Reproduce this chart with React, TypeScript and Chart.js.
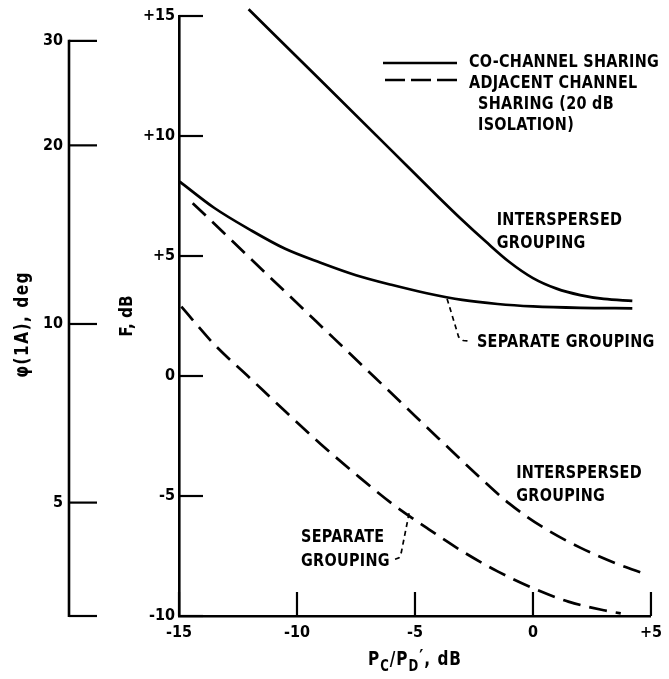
import React, { useEffect, useRef } from "react";
import { Chart, registerables } from "chart.js";
Chart.register(...registerables);

const FONT = '"DejaVu Sans Condensed", "DejaVu Sans", sans-serif';

// ---- axis ticks ----
const xTickValues = [-15, -10, -5, 0, 5];
const fTickValues = [-10, -5, 0, 5, 10, 15];
const phiTickValues = [5, 10, 20, 30];

// ---- titles / labels ----
const fTitle = "F, dB";
const phiTitle = "\u03C6(1A), deg";
const xTitleParts = ["P", "C", "/P", "D", "\u2032", ", dB"];
const legendSolid = ["CO-CHANNEL SHARING"];
const legendDashed = ["ADJACENT CHANNEL", "SHARING (20 dB", "ISOLATION)"];
const noteInterspersed = ["INTERSPERSED", "GROUPING"];
const noteSeparateOneLine = ["SEPARATE GROUPING"];
const noteSeparate = ["SEPARATE", "GROUPING"];

// ---- series (x = Pc/Pd dB, F dB) ----
const coInterX = [-12.05, -9, -6, -4, -3, -2, -1, 0, 1, 2, 3, 4.21];
const coInterF = [15.28, 12.32, 9.4, 7.45, 6.5, 5.6, 4.75, 4.08, 3.64, 3.37, 3.21, 3.13];

const coSepX = [-14.97, -13.5, -12, -10.5, -9, -7.5, -6, -4.5, -3, -1.5, 0, 2, 4.21];
const coSepF = [8.1, 7.0, 6.1, 5.3, 4.72, 4.2, 3.8, 3.45, 3.17, 3.0, 2.9, 2.84, 2.82];

const adjInterX = [-14.42, -13, -11.5, -10, -8.5, -7, -5.5, -4, -2.5, -1, 0.5, 2, 3.5, 4.76];
const adjInterF = [7.2, 5.87, 4.45, 3.04, 1.63, 0.22, -1.19, -2.6, -4.0, -5.32, -6.35, -7.15, -7.8, -8.25];

const adjSepX = [-14.9, -13.5, -12, -10.5, -9, -7.5, -6, -4.5, -3, -1.5, 0, 1.5, 3, 3.72];
const adjSepF = [2.89, 1.31, -0.08, -1.47, -2.83, -4.1, -5.3, -6.33, -7.3, -8.14, -8.84, -9.4, -9.76, -9.89];

const toPts = (xs: number[], ys: number[]) => xs.map((x, i) => ({ x, y: ys[i] }));
const fmtSigned = (v: number) => (v > 0 ? "+" + v : String(v));

const STRETCH = 1.15;

const inkPlugin = {
  id: "ink",
  afterDraw(chart: any) {
    const ctx: CanvasRenderingContext2D = chart.ctx;
    const xs = chart.scales.x;
    const ys = chart.scales.y;
    const ps = chart.scales.phi;
    const ca = chart.chartArea;
    const X = (v: number) => xs.getPixelForValue(v);
    const Y = (v: number) => ys.getPixelForValue(v);
    ctx.save();
    ctx.strokeStyle = "#000";
    ctx.fillStyle = "#000";
    ctx.lineCap = "butt";

    // inward ticks, F axis
    ctx.lineWidth = 2.2;
    fTickValues.forEach((v) => {
      const y = Y(v);
      ctx.beginPath();
      ctx.moveTo(ca.left, y);
      ctx.lineTo(ca.left + 24, y);
      ctx.stroke();
    });
    // inward ticks, x axis
    xTickValues.forEach((v) => {
      const x = X(v);
      ctx.beginPath();
      ctx.moveTo(x, ca.bottom);
      ctx.lineTo(x, ca.bottom - 24);
      ctx.stroke();
    });

    // phi axis line & ticks
    const px = ps.right;
    const pTop = ps.getPixelForValue(phiTickValues[phiTickValues.length - 1]);
    ctx.lineWidth = 2.6;
    ctx.beginPath();
    ctx.moveTo(px, pTop - 1);
    ctx.lineTo(px, ca.bottom + 1);
    ctx.stroke();
    ctx.lineWidth = 2.2;
    [...phiTickValues.map((v) => ps.getPixelForValue(v)), ca.bottom].forEach((y) => {
      ctx.beginPath();
      ctx.moveTo(px, y);
      ctx.lineTo(px + 28, y);
      ctx.stroke();
    });

    const txtFont = `bold 16px ${FONT}`;
    (ctx as any).letterSpacing = "0.3px";
    const text = (t: string, x: number, y: number, font = txtFont) => {
      ctx.save();
      ctx.font = font;
      ctx.translate(x, y);
      ctx.scale(1, STRETCH);
      ctx.fillText(t, 0, 0);
      ctx.restore();
    };
    ctx.textAlign = "left";
    ctx.textBaseline = "middle";

    // phi title
    ctx.save();
    (ctx as any).letterSpacing = "1.5px";
    ctx.translate(ps.left + 23, (pTop + ca.bottom) / 2 - 4);
    ctx.rotate(-Math.PI / 2);
    ctx.textAlign = "center";
    text(phiTitle, 0, 0, `bold 17px ${FONT}`);
    ctx.restore();
    (ctx as any).letterSpacing = "0.3px";

    // x title with subscripts
    const big = `bold 17px ${FONT}`;
    const small = `bold 13px ${FONT}`;
    const isSub = [false, true, false, true, false, false];
    (ctx as any).letterSpacing = "1px";
    let total = 0;
    xTitleParts.forEach((t, i) => {
      ctx.font = isSub[i] ? small : big;
      total += ctx.measureText(t).width;
    });
    let cx = (xs.left + xs.right) / 2 - total / 2;
    const ty = ca.bottom + 44;
    xTitleParts.forEach((t, i) => {
      const f = isSub[i] ? small : big;
      text(t, cx, ty + (isSub[i] ? 7 : 0) + (i === 4 ? -2 : 0), f);
      ctx.font = f;
      cx += ctx.measureText(t).width;
    });
    (ctx as any).letterSpacing = "0.3px";

    // legend
    const lx = ca.left + 204;
    const ly = ca.top + 47;
    ctx.lineWidth = 2.6;
    ctx.beginPath();
    ctx.moveTo(lx, ly);
    ctx.lineTo(lx + 74, ly);
    ctx.stroke();
    ctx.setLineDash([20, 6]);
    ctx.beginPath();
    ctx.moveTo(lx + 2, ly + 17);
    ctx.lineTo(lx + 76, ly + 17);
    ctx.stroke();
    ctx.setLineDash([]);
    text(legendSolid[0], lx + 86, ly - 1);
    text(legendDashed[0], lx + 86, ly + 20);
    text(legendDashed[1], lx + 95, ly + 41);
    text(legendDashed[2], lx + 95, ly + 62);

    // annotations
    const lineText = (lines: string[], x: number, f: number, gapPx: number) => {
      lines.forEach((t, i) => text(t, X(x), Y(f) + i * gapPx));
    };
    lineText(noteInterspersed, -1.54, 6.47, 22.5);
    lineText(noteSeparateOneLine, -2.375, 1.42, 0);
    lineText(noteInterspersed, -0.71, -4.04, 23);
    lineText(noteSeparate, -9.83, -6.73, 24);

    // leaders
    const leader = (pts: number[][]) => {
      ctx.lineWidth = 1.7;
      ctx.setLineDash([5, 4]);
      ctx.beginPath();
      pts.forEach(([x, f], i) => (i ? ctx.lineTo(X(x), Y(f)) : ctx.moveTo(X(x), Y(f))));
      ctx.stroke();
      ctx.setLineDash([]);
    };
    leader([[-3.64, 3.22], [-3.15, 1.63], [-2.96, 1.48], [-2.75, 1.46]]);
    leader([[-5.25, -5.72], [-5.58, -7.35], [-5.68, -7.58], [-5.95, -7.67]]);

    (ctx as any).letterSpacing = "0px";
    ctx.restore();
  },
};

export default function App() {
  const ref = useRef<HTMLCanvasElement | null>(null);
  useEffect(() => {
    if (!ref.current) return;
    const lineBase = {
      borderColor: "#000",
      borderWidth: 2.7,
      pointRadius: 0,
      fill: false,
      cubicInterpolationMode: "monotone" as const,
      clip: false as any,
      xAxisID: "x",
      yAxisID: "y",
    };
    const tickFont = { family: FONT, size: 16, weight: "bold" as const };
    const noGrid = { display: false, drawTicks: false };
    const chart = new Chart(ref.current, {
      type: "line",
      data: {
        datasets: [
          { ...lineBase, label: "Co-channel interspersed", data: toPts(coInterX, coInterF) },
          { ...lineBase, label: "Co-channel separate", data: toPts(coSepX, coSepF) },
          { ...lineBase, label: "Adjacent interspersed", data: toPts(adjInterX, adjInterF), borderDash: [18, 9] },
          { ...lineBase, label: "Adjacent separate", data: toPts(adjSepX, adjSepF), borderDash: [18, 9] },
        ],
      },
      options: {
        animation: false,
        responsive: false,
        maintainAspectRatio: false,
        devicePixelRatio: 1,
        layout: { padding: { top: 16, right: 12, left: 0, bottom: 0 } },
        plugins: { legend: { display: false }, tooltip: { enabled: false }, title: { display: false } },
        scales: {
          x: {
            type: "linear",
            position: "bottom",
            min: -15,
            max: 5,
            afterBuildTicks: (s: any) => {
              s.ticks = xTickValues.map((v) => ({ value: v }));
            },
            ticks: { callback: (v: any) => fmtSigned(Number(v)), font: tickFont, color: "#000", padding: 7, maxRotation: 0, autoSkip: false },
            grid: noGrid,
            border: { display: true, color: "#000", width: 2.6 },
            afterFit: (s: any) => {
              s.height = 63;
            },
          },
          y: {
            type: "linear",
            position: "left",
            weight: 0,
            min: -10,
            max: 15,
            afterBuildTicks: (s: any) => {
              s.ticks = fTickValues.map((v) => ({ value: v }));
            },
            ticks: { callback: (v: any) => fmtSigned(Number(v)), font: tickFont, color: "#000", padding: 4, autoSkip: false },
            grid: noGrid,
            border: { display: true, color: "#000", width: 2.6 },
            title: { display: true, text: fTitle, color: "#000", font: { family: FONT, size: 17, weight: "bold" }, padding: { top: 48, bottom: 0 } },
            afterFit: (s: any) => {
              s.width = 110;
            },
          },
          phi: {
            type: "logarithmic",
            position: "left",
            weight: 1,
            min: 3.22,
            max: 33.04,
            afterBuildTicks: (s: any) => {
              s.ticks = phiTickValues.map((v) => ({ value: v }));
            },
            ticks: { callback: (v: any) => String(v), font: tickFont, color: "#000", padding: 6, autoSkip: false },
            grid: noGrid,
            border: { display: false },
            afterFit: (s: any) => {
              s.width = 69;
            },
          },
        },
      } as any,
      plugins: [inkPlugin],
    });
    return () => chart.destroy();
  }, []);
  return (
    <div style={{ position: "absolute", left: 0, top: 0, width: 669, height: 679, background: "#fff" }}>
      <canvas ref={ref} width={669} height={679} style={{ display: "block" }} />
    </div>
  );
}
